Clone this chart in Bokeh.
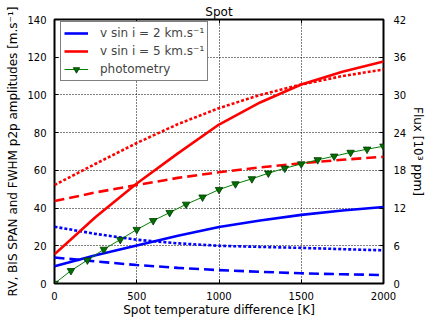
from bokeh.plotting import figure
from bokeh.models import (Range1d, LinearAxis, FixedTicker, Legend, LegendItem,
                          ColumnDataSource)
from bokeh.embed import file_html
from bokeh.resources import INLINE

# ---- data -------------------------------------------------------------
dT = [0, 250, 500, 750, 1000, 1250, 1500, 1750, 2000]
# v sin i = 2 km/s (blue)
blue_solid = [9.2, 15.0, 20.2, 25.3, 30.0, 33.4, 36.4, 38.7, 40.6]
blue_dotted = [30.1, 26.3, 23.2, 21.3, 20.0, 19.4, 18.9, 18.2, 17.6]
blue_dashed = [13.8, 11.7, 9.8, 8.3, 7.1, 6.2, 5.4, 4.9, 4.5]
# v sin i = 5 km/s (red)
red_solid = [15.5, 35.3, 53.0, 69.0, 84.3, 96.0, 105.5, 112.3, 117.7]
red_dotted = [52.2, 63.5, 74.5, 84.5, 93.0, 100.0, 105.5, 110.0, 113.5]
red_dashed = [43.7, 48.3, 52.2, 56.0, 59.0, 61.6, 63.8, 65.6, 67.2]
# photometry (flux, 10^3 ppm)
dT_phot = [0, 100, 200, 300, 400, 500, 600, 700, 800, 900, 1000,
           1100, 1200, 1300, 1400, 1500, 1600, 1700, 1800, 1900, 2000]
flux_phot = [0.0, 2.04, 3.72, 5.43, 6.99, 8.58, 9.99, 11.28, 12.6, 13.74, 14.94,
             15.84, 16.65, 17.55, 18.33, 19.02, 19.68, 20.25, 20.85, 21.36, 21.84]

x_ticks = [0, 500, 1000, 1500, 2000]
y_ticks = [0, 20, 40, 60, 80, 100, 120, 140]
flux_ticks = [0, 6, 12, 18, 24, 30, 36, 42]

FONT = "DejaVu Sans"

p = figure(width=428, height=319, output_backend="svg", toolbar_location=None,
           x_range=Range1d(0, 2000), y_range=Range1d(0, 140),
           min_border_left=54, min_border_right=44, min_border_top=19,
           min_border_bottom=33, title="Spot")
p.extra_y_ranges = {"flux": Range1d(0, 42)}

p.title.align = "center"
p.title.text_font = FONT
p.title.text_font_size = "12px"
p.title.text_font_style = "normal"
p.title.text_color = "black"
p.title.standoff = 1

p.background_fill_color = "white"
p.border_fill_color = "white"
p.outline_line_color = "black"
p.outline_line_width = 2

def style_axis(ax, ticks):
    ax.ticker = FixedTicker(ticks=ticks)
    ax.axis_line_color = None
    ax.major_tick_in = 4
    ax.major_tick_out = 0
    ax.major_tick_line_color = "black"
    ax.minor_tick_line_color = None
    ax.major_label_text_font = FONT
    ax.major_label_text_font_size = "10px"
    ax.major_label_text_color = "black"
    ax.axis_label_text_font = FONT
    ax.axis_label_text_font_size = "12px"
    ax.axis_label_text_font_style = "normal"
    ax.axis_label_text_color = "black"

xa = p.xaxis[0]
style_axis(xa, x_ticks)
xa.axis_label = "Spot temperature difference [K]"
xa.major_label_standoff = 8
xa.axis_label_standoff = 0

ya = p.yaxis[0]
style_axis(ya, y_ticks)
ya.axis_label = "RV, BIS SPAN and FWHM p2p amplitudes [m.s\u207b\u00b9]"
ya.major_label_standoff = 8
ya.axis_label_standoff = 4

ra = LinearAxis(y_range_name="flux", axis_label="Flux [10\u00b3 ppm]")
style_axis(ra, flux_ticks)
ra.major_label_standoff = 10
ra.axis_label_standoff = 2
p.add_layout(ra, "right")

ta = LinearAxis()
style_axis(ta, x_ticks)
ta.major_label_text_font_size = "0px"
ta.major_label_text_alpha = 0
ta.major_label_standoff = 0
p.add_layout(ta, "above")

for g in (p.xgrid[0], p.ygrid[0]):
    g.grid_line_color = "black"
    g.grid_line_dash = "1 2"
    g.grid_line_width = 1
p.xgrid[0].ticker = FixedTicker(ticks=x_ticks[1:-1])
p.ygrid[0].ticker = FixedTicker(ticks=y_ticks[1:-1])

BLUE = "#0000ff"
RED = "#ff0000"
LW = 2.6

b1 = p.line(dT, blue_solid, line_color=BLUE, line_width=LW)
p.line(dT, blue_dotted, line_color=BLUE, line_width=LW, line_dash="3 2")
p.line(dT, blue_dashed, line_color=BLUE, line_width=LW, line_dash="10 5")
r1 = p.line(dT, red_solid, line_color=RED, line_width=LW)
p.line(dT, red_dotted, line_color=RED, line_width=LW, line_dash="3 2")
p.line(dT, red_dashed, line_color=RED, line_width=LW, line_dash="10 5")

src = ColumnDataSource(dict(x=dT_phot, y=flux_phot))
ph_l = p.line("x", "y", source=src, y_range_name="flux", line_color="#008000",
              line_width=1)
ph_m = p.scatter("x", "y", source=src, y_range_name="flux",
                 marker="inverted_triangle", size=7.5, fill_color="#007000",
                 line_color="#003800", line_width=0.8)

legend = Legend(items=[
    LegendItem(label="v sin i = 2 km.s\u207b\u00b9", renderers=[b1]),
    LegendItem(label="v sin i = 5 km.s\u207b\u00b9", renderers=[r1]),
    LegendItem(label="photometry", renderers=[ph_l, ph_m]),
], location=(6, 202))
legend.margin = 0
legend.padding = 3
legend.spacing = 2
legend.label_height = 16
legend.glyph_height = 16
legend.glyph_width = 24
legend.label_standoff = 12
legend.label_text_font = FONT
legend.label_text_font_size = "12px"
legend.border_line_color = "black"
legend.border_line_width = 1
legend.background_fill_color = "white"
legend.background_fill_alpha = 1
p.add_layout(legend, "center")

open("out.html", "w").write(file_html(p, INLINE))
